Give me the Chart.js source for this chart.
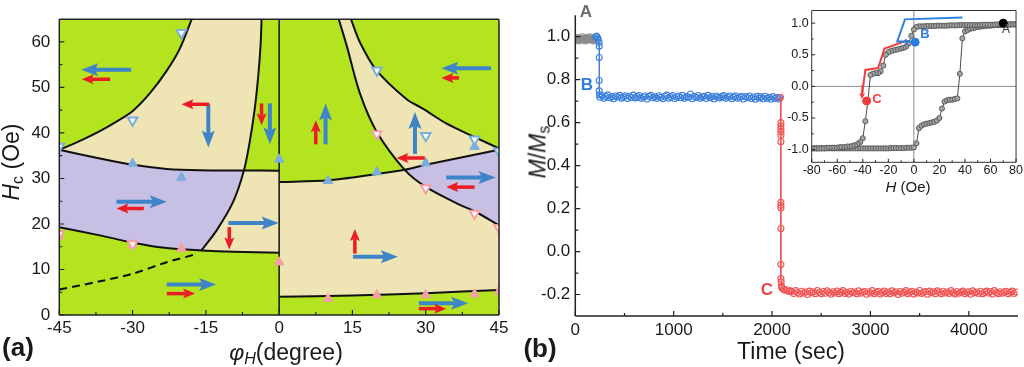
<!DOCTYPE html>
<html>
<head>
<meta charset="utf-8">
<title>Switching phase diagram and magnetization relaxation</title>
<script src="https://cdn.jsdelivr.net/npm/chart.js@4.4.1/dist/chart.umd.min.js"></script>
<style>
  body { margin: 0; background: #fff; font-family: 'Liberation Sans', Arial, sans-serif; color: #1a1a1a; }
  #wrap { position: relative; width: 1024px; height: 367px; overflow: hidden; }
  .box { position: absolute; }
  .lbl { position: absolute; line-height: 1; white-space: nowrap; transform: translate(-50%, -50%); }
  .rot { transform: translate(-50%, -50%) rotate(-90deg); }
  sub { font-size: 70%; vertical-align: -0.25em; line-height: 0; }
</style>
</head>
<body>
<div id="wrap">
  <div class="box" style="left:0;top:0;width:520px;height:367px"><canvas id="chartA"></canvas></div>
  <div class="box" style="left:520px;top:0;width:504px;height:367px"><canvas id="chartB"></canvas></div>
  <div class="box" style="left:780px;top:0;width:244px;height:200px"><canvas id="chartInset"></canvas></div>

  <div class="lbl" style="left:18px;top:347px;font-size:26px;font-weight:bold">(a)</div>
  <div class="lbl" style="left:540px;top:348px;font-size:26px;font-weight:bold">(b)</div>

  <div class="lbl rot" style="left:11px;top:162px;font-size:23px"><i>H</i><sub>c</sub> (Oe)</div>
  <div class="lbl" style="left:286px;top:352px;font-size:23px"><i>φ</i><sub><i>H</i></sub>(degree)</div>
  <div class="lbl rot" style="left:538px;top:152px;font-size:23px"><i>M</i>/<i>M</i><sub>s</sub></div>
  <div class="lbl" style="left:791px;top:351px;font-size:23px">Time (sec)</div>
  <div class="lbl" style="left:908px;top:186px;font-size:15px"><i>H</i> (Oe)</div>

  <div class="lbl" style="left:586px;top:11px;font-size:17px;font-weight:bold;color:#6b6b6b">A</div>
  <div class="lbl" style="left:587px;top:84px;font-size:17px;font-weight:bold;color:#2b7de0">B</div>
  <div class="lbl" style="left:767px;top:289px;font-size:17px;font-weight:bold;color:#ee4444">C</div>

  <div class="lbl" style="left:1006px;top:29px;font-size:12px;color:#333">A</div>
  <div class="lbl" style="left:925px;top:33px;font-size:13px;font-weight:bold;color:#2b7de0">B</div>
  <div class="lbl" style="left:877px;top:98px;font-size:13px;font-weight:bold;color:#ee3b3b">C</div>
</div>

<script>
// ---------- panel (a): phi_H (degree) vs Hc (Oe) ----------
const phiTicks = [-45, -30, -15, 0, 15, 30, 45];
const phiMinor = [-37.5, -22.5, -7.5, 7.5, 22.5, 37.5];
const hcTicks = [0, 10, 20, 30, 40, 50, 60];
const hcMinor = [5, 15, 25, 35, 45, 55];

// boundary curves, [phi, Hc]
const curveA = [[-45, 36.3], [-40.1, 38.6], [-36.7, 40.4], [-33.3, 42.5], [-29.9, 44.9], [-26.4, 48.8], [-23, 53.7], [-20.3, 58.6], [-17.9, 65]];
const curveB = [[-15.9, 14.2], [-12.8, 18.6], [-9.4, 24.9], [-7.2, 31.8], [-6.0, 38.2], [-5.0, 45.3], [-4.3, 52.3], [-3.8, 59.3], [-3.6, 65]];
const curveBdash = [[-45, 5.6], [-36.7, 7.4], [-29.9, 9.1], [-23, 11.6], [-17.2, 13.3]];
const curveC = [[-45, 36.3], [-36.7, 34.4], [-29.9, 33.0], [-23, 32.1], [-16.2, 31.8], [-7.2, 31.75], [0, 31.7]];
const curveD = [[-45, 19.3], [-36.7, 17.5], [-29.9, 15.9], [-23, 14.7], [-15.9, 14.2], [-9.4, 13.9], [0, 13.7]];
const curveE = [[0, 29.2], [10, 29.6], [20, 31.0], [25.7, 31.9], [30, 33.0], [40, 35.2], [45, 36.3]];
const curveF = [[0, 4.0], [15, 4.3], [30, 4.8], [45, 5.5]];
const curveG = [[12.2, 65], [13.8, 59.3], [16.5, 48.8], [19.9, 40.4], [25.7, 31.9], [30.1, 28.1], [37, 24.2], [40, 22.8], [45, 19.7]];
const curveH = [[14.7, 65], [16.5, 60], [19.9, 53.8], [26.1, 47.4], [29.5, 45.3], [34.2, 42.1], [40, 39.1], [45, 36.6]];
const divider = [[0, 0], [0, 65]];

// measured switching fields (triangles)
const blueUp = [[-30, 33.3], [-20, 30.2], [0, 34.2], [10, 29.5], [20, 31.4], [30, 33.4], [40, 37.0]];
const blueDown = [[-45, 37], [-30, 42.8], [-20, 62], [20, 53.8], [30, 39.4], [40, 38.6], [45, 36]];
const pinkUp = [[-45, 17.3], [-30, 15.4], [-20, 14.6], [0, 11.6], [10, 3.6], [20, 4.4], [30, 4.4], [40, 4.6], [45, 5.2]];
const pinkDown = [[-45, 17.8], [-30, 15.6], [20, 39.8], [30, 27.9], [40, 22.3], [45, 19.2]];

// magnetization arrows [phiFrom, HcFrom, phiTo, HcTo]
const arrowsBlue = [
  [-30.3, 53.9, -40.5, 53.9], [-14.5, 46.3, -14.5, 36.8], [-1.9, 46.5, -1.9, 37.5],
  [-33.3, 24.9, -23.0, 24.9], [-10.4, 20.2, -0.1, 20.2], [-23.0, 6.7, -12.9, 6.7],
  [43.4, 54.2, 33.2, 54.2], [9.5, 37.5, 9.5, 46.5], [27.8, 35.4, 27.8, 44.6],
  [34.2, 30.2, 44.3, 30.2], [15.1, 12.8, 24.3, 12.8], [28.6, 2.6, 38.7, 2.6]
];
const arrowsRed = [
  [-34.6, 51.8, -40.4, 51.8], [-14.3, 46.3, -20.0, 46.3], [-3.6, 46.5, -3.6, 41.7],
  [-27.7, 23.4, -33.3, 23.4], [-10.2, 19.3, -10.2, 14.4], [-23.0, 4.7, -17.2, 4.7],
  [36.8, 52.1, 33.2, 52.1], [7.5, 37.5, 7.5, 42.8], [29.8, 34.5, 24.0, 34.5],
  [40.0, 28.1, 34.2, 28.1], [15.5, 13.5, 15.5, 18.9], [28.6, 1.4, 34.2, 1.4]
];

// ---------- panel (b): M/Ms vs time ----------
const timeTicks = [0, 1000, 2000, 3000, 4000];
const timeMinor = [500, 1500, 2500, 3500];
const mTicks = [-0.2, 0, 0.2, 0.4, 0.6, 0.8, 1.0];
const mMinor = [-0.1, 0.1, 0.3, 0.5, 0.7, 0.9];

const graySeries = [[0, 0.99], [8, 0.985], [16, 0.995], [24, 0.99], [32, 0.98], [40, 0.995], [48, 0.99], [56, 0.985],
  [64, 0.99], [72, 1.0], [80, 0.985], [88, 0.99], [96, 0.995], [104, 0.98], [112, 0.99], [120, 0.995],
  [128, 0.985], [136, 0.99], [144, 1.0], [152, 0.99], [160, 0.995], [168, 0.985], [176, 0.99], [184, 0.98],
  [192, 0.995], [200, 0.99]];

const blueSeries = [[208, 1.0], [217, 1.003], [226, 0.995], [233, 0.988], [243, 0.973], [243, 0.956], [243, 0.903],
  [243, 0.796], [243, 0.748], [245, 0.73],
  [250, 0.718], [270, 0.726], [290, 0.713], [310, 0.722], [330, 0.729], [350, 0.716], [370, 0.721], [390, 0.711],
  [410, 0.724], [430, 0.719], [450, 0.727], [470, 0.714], [490, 0.72], [510, 0.725], [530, 0.712], [550, 0.723],
  [570, 0.717], [590, 0.728], [610, 0.715], [630, 0.721], [650, 0.726], [670, 0.713], [690, 0.719], [710, 0.724],
  [730, 0.71], [750, 0.722], [770, 0.727], [790, 0.716], [810, 0.72], [830, 0.713], [850, 0.725], [870, 0.718],
  [890, 0.711], [910, 0.723], [930, 0.728], [950, 0.714], [970, 0.72], [990, 0.726], [1010, 0.712], [1030, 0.719],
  [1050, 0.724], [1070, 0.716], [1090, 0.727], [1110, 0.713], [1130, 0.721], [1150, 0.718], [1170, 0.733],
  [1190, 0.711], [1210, 0.722], [1230, 0.717], [1250, 0.726], [1270, 0.714], [1290, 0.72], [1310, 0.723],
  [1330, 0.712], [1350, 0.727], [1370, 0.716], [1390, 0.721], [1410, 0.71], [1430, 0.724], [1450, 0.718],
  [1470, 0.715], [1490, 0.722], [1510, 0.726], [1530, 0.713], [1550, 0.719], [1570, 0.724], [1590, 0.711],
  [1610, 0.72], [1630, 0.725], [1650, 0.714], [1670, 0.718], [1690, 0.723], [1710, 0.71], [1730, 0.721],
  [1750, 0.716], [1770, 0.724], [1790, 0.712], [1810, 0.719], [1830, 0.709], [1850, 0.722], [1870, 0.715],
  [1890, 0.72], [1910, 0.711], [1930, 0.723], [1950, 0.713], [1970, 0.718], [1990, 0.709], [2010, 0.721],
  [2030, 0.712], [2050, 0.717], [2070, 0.71], [2080, 0.716]];

const redSeries = [[2085, 0.718], [2090, 0.6], [2090, 0.585], [2090, 0.57], [2090, 0.556], [2090, 0.54], [2090, 0.511],
  [2090, 0.229], [2090, 0.215], [2090, 0.203], [2090, 0.107], [2090, -0.06], [2090, -0.126], [2092, -0.141],
  [2095, -0.16], [2100, -0.168], [2115, -0.175], [2130, -0.18], [2150, -0.178], [2170, -0.186], [2185, -0.183],
  [2200, -0.186], [2220, -0.195], [2240, -0.182], [2260, -0.191], [2280, -0.198], [2300, -0.185], [2320, -0.193],
  [2340, -0.188], [2360, -0.2], [2380, -0.184], [2400, -0.192], [2420, -0.187], [2440, -0.196], [2460, -0.181],
  [2480, -0.19], [2500, -0.197], [2520, -0.186], [2540, -0.194], [2560, -0.183], [2580, -0.191], [2600, -0.199],
  [2620, -0.187], [2640, -0.193], [2660, -0.184], [2680, -0.196], [2700, -0.189], [2720, -0.182], [2740, -0.195],
  [2760, -0.19], [2780, -0.198], [2800, -0.185], [2820, -0.192], [2840, -0.188], [2860, -0.197], [2880, -0.183],
  [2900, -0.194], [2920, -0.19], [2940, -0.186], [2960, -0.199], [2980, -0.187], [3000, -0.193], [3020, -0.182],
  [3040, -0.196], [3060, -0.189], [3080, -0.185], [3100, -0.198], [3120, -0.191], [3140, -0.184], [3160, -0.195],
  [3180, -0.188], [3200, -0.197], [3220, -0.183], [3240, -0.192], [3260, -0.187], [3280, -0.2], [3300, -0.186],
  [3320, -0.194], [3340, -0.189], [3360, -0.182], [3380, -0.196], [3400, -0.19], [3420, -0.185], [3440, -0.198],
  [3460, -0.188], [3480, -0.193], [3500, -0.181], [3520, -0.195], [3540, -0.19], [3560, -0.186], [3580, -0.199],
  [3600, -0.184], [3620, -0.192], [3640, -0.187], [3660, -0.196], [3680, -0.183], [3700, -0.19], [3720, -0.197],
  [3740, -0.185], [3760, -0.193], [3780, -0.188], [3800, -0.195], [3820, -0.182], [3840, -0.191], [3860, -0.198],
  [3880, -0.186], [3900, -0.194], [3920, -0.189], [3940, -0.184], [3960, -0.196], [3980, -0.19], [4000, -0.187],
  [4020, -0.199], [4040, -0.183], [4060, -0.192], [4080, -0.188], [4100, -0.195], [4120, -0.185], [4140, -0.197],
  [4160, -0.19], [4180, -0.184], [4200, -0.193], [4220, -0.186], [4240, -0.198], [4260, -0.182], [4280, -0.191],
  [4300, -0.196], [4320, -0.187], [4340, -0.194], [4360, -0.189], [4380, -0.185], [4400, -0.197], [4420, -0.19],
  [4440, -0.184], [4460, -0.195], [4480, -0.188]];

// ---------- inset: hysteresis loop ----------
const fieldTicks = [-80, -60, -40, -20, 0, 20, 40, 60, 80];
const fieldMinor = [-70, -50, -30, -10, 10, 30, 50, 70];
const loopTicks = [-1.0, -0.5, 0, 0.5, 1.0];
const loopMinor = [-0.75, -0.25, 0.25, 0.75];

const loopDown = [[80, 0.98], [78, 0.98], [76, 0.98], [74, 0.98], [72, 0.98], [70, 0.98], [68, 0.98], [66, 0.98],
  [64, 0.98], [62, 0.975], [60, 0.975], [58, 0.975], [56, 0.975], [54, 0.975], [52, 0.97], [50, 0.97], [48, 0.97],
  [46, 0.97], [44, 0.97], [42, 0.97], [40, 0.97], [38, 0.97], [36, 0.97], [34, 0.965], [32, 0.965], [30, 0.965],
  [28, 0.965], [26, 0.96], [24, 0.96], [22, 0.96], [20, 0.96], [18, 0.96], [16, 0.955], [14, 0.955], [12, 0.955],
  [10, 0.955], [8, 0.95], [6, 0.95], [4, 0.95], [2, 0.94], [0, 0.9], [-2, 0.8], [-4, 0.68], [-6, 0.63], [-8, 0.61],
  [-10, 0.6], [-12, 0.59], [-14, 0.58], [-16, 0.57], [-18, 0.56], [-20, 0.54], [-22, 0.5], [-24, 0.33], [-26, 0.24],
  [-28, 0.21], [-30, 0.21], [-32, 0.2], [-34, 0.18], [-36, -0.23], [-38, -0.55], [-40, -0.82], [-42, -0.88],
  [-44, -0.91], [-46, -0.93], [-48, -0.94], [-50, -0.95], [-52, -0.95], [-54, -0.96], [-56, -0.96], [-58, -0.96],
  [-60, -0.97], [-62, -0.97], [-64, -0.97], [-66, -0.97], [-68, -0.97], [-70, -0.98], [-72, -0.98], [-74, -0.98],
  [-76, -0.98], [-78, -0.98], [-80, -0.98]];

const loopUp = [[-80, -0.98], [-78, -0.98], [-76, -0.98], [-74, -0.98], [-72, -0.98], [-70, -0.98], [-68, -0.98],
  [-66, -0.98], [-64, -0.98], [-62, -0.98], [-60, -0.98], [-58, -0.98], [-56, -0.98], [-54, -0.98], [-52, -0.98],
  [-50, -0.98], [-48, -0.98], [-46, -0.98], [-44, -0.98], [-42, -0.98], [-40, -0.98], [-38, -0.98], [-36, -0.98],
  [-34, -0.98], [-32, -0.98], [-30, -0.98], [-28, -0.98], [-26, -0.98], [-24, -0.98], [-22, -0.98], [-20, -0.98],
  [-18, -0.975], [-16, -0.975], [-14, -0.975], [-12, -0.975], [-10, -0.975], [-8, -0.975], [-6, -0.97], [-4, -0.97],
  [-2, -0.97], [0, -0.965], [2, -0.9], [4, -0.66], [6, -0.62], [8, -0.6], [10, -0.59], [12, -0.58], [14, -0.57],
  [16, -0.56], [18, -0.54], [20, -0.5], [22, -0.35], [24, -0.24], [26, -0.22], [28, -0.21], [30, -0.21], [32, -0.2],
  [34, -0.19], [36, 0.2], [38, 0.76], [40, 0.87], [42, 0.89], [44, 0.91], [46, 0.92], [48, 0.93], [50, 0.94],
  [52, 0.945], [54, 0.95], [56, 0.955], [58, 0.96], [60, 0.96], [62, 0.965], [64, 0.97], [66, 0.97], [68, 0.97],
  [70, 0.975], [72, 0.975], [74, 0.975], [76, 0.98], [78, 0.98], [80, 0.98]];

const bluePath = [[38, 1.09], [-7, 1.06], [-13, 0.71], [-3, 0.71]];
const redPath = [[-6, 0.72], [-23, 0.6], [-28, 0.29], [-38, 0.26], [-40.5, -0.12]];
const insetArrowsBlue = [[-8, 0.71, -2.5, 0.71]];
const insetArrowsRed = [[-40.2, 0.02, -40.7, -0.2]];
const zeroH = [[-80, 0], [80, 0]];
const zeroV = [[0, -1.2], [0, 1.2]];
const pointA = [[70, 1.0]];
const pointB = [[1, 0.7]];
const pointC = [[-37, -0.23]];

// ---------- helpers ----------
const FONT = "'Liberation Sans', Arial, sans-serif";
const pts = arr => arr.map(([x, y]) => ({ x, y }));
const seg = (c, i, j) => (i <= j ? c.slice(i, j + 1) : c.slice(j, i + 1).reverse());

const GREEN = '#b4e41f';
const BEIGE = '#efe4b4';
const PURPLE = '#c7bfe4';

// regions of the phase diagram, closed polygons built from the boundary curves
const beigeRegions = [
  [...curveA, ...seg(curveB, 8, 3), ...seg(curveC, 5, 0)],
  [...seg(curveB, 0, 3), ...seg(curveC, 5, 6), ...seg(curveD, 6, 4)],
  [...seg(curveG, 0, 4), ...seg(curveE, 3, 6), ...seg(curveH, 7, 0)],
  [...curveF, ...seg(curveG, 8, 4), ...seg(curveE, 3, 0)]
];
const purpleRegions = [
  [...seg(curveC, 0, 5), ...seg(curveB, 3, 0), ...seg(curveD, 4, 0)],
  [...seg(curveE, 3, 6), ...seg(curveG, 8, 4)]
];

function region(data, color) {
  return { data: pts(data), showLine: true, pointRadius: 0, borderWidth: 0, borderColor: 'rgba(0,0,0,0)',
    backgroundColor: color, fill: 'shape', tension: 0, order: 30 };
}

function curve(data, extra) {
  return Object.assign({ data: pts(data), showLine: true, pointRadius: 0, borderColor: '#111', borderWidth: 2,
    tension: 0.3, fill: false, order: 10 }, extra);
}

function triangles(data, color, down) {
  return { data: pts(data), pointStyle: 'triangle', pointRadius: 5.5, pointRotation: down ? 180 : 0,
    pointBackgroundColor: down ? '#fff' : color, pointBorderColor: color, pointBorderWidth: down ? 2 : 1,
    showLine: false, clip: 0, order: down ? 1 : 2 };
}

// open circles: transparent inside so the dense run of points reads as a band
function series(data, color, order) {
  return { data: pts(data), showLine: true, borderColor: color, borderWidth: 1, pointRadius: 3,
    pointBorderWidth: 1.1, pointBorderColor: color, pointBackgroundColor: 'rgba(255,255,255,0)',
    tension: 0, order: order };
}

// fills the plot area
const plotBg = {
  id: 'plotBg',
  beforeDatasetsDraw(chart, args, opts) {
    if (!opts.color) return;
    const { ctx, chartArea: a } = chart;
    ctx.save();
    ctx.fillStyle = opts.color;
    ctx.fillRect(a.left, a.top, a.right - a.left, a.bottom - a.top);
    ctx.restore();
  }
};

// axis lines around the plot area
const frame = {
  id: 'frame',
  afterDraw(chart, args, opts) {
    const { ctx, chartArea: a } = chart;
    const sides = opts.sides || 'lbtr';
    ctx.save();
    ctx.strokeStyle = opts.color || '#222';
    ctx.lineWidth = opts.width || 1;
    ctx.beginPath();
    if (sides.includes('l')) { ctx.moveTo(a.left, a.top); ctx.lineTo(a.left, a.bottom); }
    if (sides.includes('b')) { ctx.moveTo(a.left, a.bottom); ctx.lineTo(a.right, a.bottom); }
    if (sides.includes('t')) { ctx.moveTo(a.left, a.top); ctx.lineTo(a.right, a.top); }
    if (sides.includes('r')) { ctx.moveTo(a.right, a.top); ctx.lineTo(a.right, a.bottom); }
    ctx.stroke();
    ctx.restore();
  }
};

// tick marks pointing into the plot, major and minor
const innerTicks = {
  id: 'innerTicks',
  afterDraw(chart, args, opts) {
    const { ctx, chartArea: a, scales } = chart;
    ctx.save();
    ctx.strokeStyle = '#222';
    ctx.lineWidth = opts.width || 1;
    ctx.beginPath();
    const xTick = (v, len) => { const px = scales.x.getPixelForValue(v); ctx.moveTo(px, a.bottom); ctx.lineTo(px, a.bottom - len); };
    const yTick = (v, len) => { const py = scales.y.getPixelForValue(v); ctx.moveTo(a.left, py); ctx.lineTo(a.left + len, py); };
    opts.xMajor.forEach(v => xTick(v, opts.len));
    opts.xMinor.forEach(v => xTick(v, opts.minorLen));
    opts.yMajor.forEach(v => yTick(v, opts.len));
    opts.yMinor.forEach(v => yTick(v, opts.minorLen));
    ctx.stroke();
    ctx.restore();
  }
};

// arrows given in data coordinates
const arrows = {
  id: 'arrows',
  afterDatasetsDraw(chart, args, opts) {
    const { ctx, scales } = chart;
    ctx.save();
    for (const set of opts.sets || []) {
      for (const [x0, y0, x1, y1] of set.list) {
        const p0x = scales.x.getPixelForValue(x0), p0y = scales.y.getPixelForValue(y0);
        const p1x = scales.x.getPixelForValue(x1), p1y = scales.y.getPixelForValue(y1);
        const ang = Math.atan2(p1y - p0y, p1x - p0x);
        const c = Math.cos(ang), s = Math.sin(ang);
        const bx = p1x - c * set.head, by = p1y - s * set.head;
        const nx = p1x - c * set.head * 0.8, ny = p1y - s * set.head * 0.8;
        ctx.strokeStyle = set.color;
        ctx.fillStyle = set.color;
        ctx.lineWidth = set.width;
        ctx.beginPath();
        ctx.moveTo(p0x, p0y);
        ctx.lineTo(nx, ny);
        ctx.stroke();
        ctx.beginPath();
        ctx.moveTo(p1x, p1y);
        ctx.lineTo(bx - s * set.headW, by + c * set.headW);
        ctx.lineTo(nx, ny);
        ctx.lineTo(bx + s * set.headW, by - c * set.headW);
        ctx.closePath();
        ctx.fill();
      }
    }
    ctx.restore();
  }
};

function axis(min, max, tickList, size, pad, fmt, fit) {
  return {
    type: 'linear', min: min, max: max,
    grid: { display: false, drawTicks: false },
    border: { display: false },
    ticks: { font: { family: FONT, size: size }, color: '#1a1a1a', padding: pad, autoSkip: false,
      maxRotation: 0, minRotation: 0, callback: fmt },
    afterBuildTicks: scale => { scale.ticks = tickList.map(v => ({ value: v })); },
    afterFit: fit
  };
}

const baseOptions = {
  animation: false,
  responsive: true,
  maintainAspectRatio: false,
  events: []
};

// ---------- chart (a) ----------
new Chart(document.getElementById('chartA'), {
  type: 'scatter',
  data: {
    datasets: [
      triangles(blueDown, '#7aaedc', true),
      triangles(blueUp, '#7aaedc', false),
      triangles(pinkDown, '#f5a0a4', true),
      triangles(pinkUp, '#f5a0a4', false),
      curve(curveA), curve(curveB), curve(curveC), curve(curveD),
      curve(curveE), curve(curveF), curve(curveG), curve(curveH),
      curve(curveBdash, { borderDash: [8, 5] }),
      curve(divider, { borderWidth: 1.5, tension: 0 }),
      ...beigeRegions.map(r => region(r, BEIGE)),
      ...purpleRegions.map(r => region(r, PURPLE))
    ]
  },
  options: Object.assign({}, baseOptions, {
    layout: { padding: { left: 0, right: 21, top: 6, bottom: 0 } },
    plugins: {
      legend: { display: false },
      tooltip: { enabled: false },
      plotBg: { color: GREEN },
      frame: { sides: 'lbtr', width: 1.5, color: '#222' },
      innerTicks: { xMajor: phiTicks, xMinor: phiMinor, yMajor: hcTicks, yMinor: hcMinor, len: 5, minorLen: 3, width: 1.2 },
      arrows: { sets: [
        { list: arrowsBlue, color: '#3d84c8', width: 4, head: 17, headW: 6.5 },
        { list: arrowsRed, color: '#ec1c24', width: 3.5, head: 12, headW: 5 }
      ] }
    },
    scales: {
      x: axis(-45, 45, phiTicks, 17, 3, v => String(v), s => { s.height = 52; }),
      y: axis(0, 65, hcTicks, 17, 9, v => String(v), s => { s.width = 59.3; })
    }
  }),
  plugins: [plotBg, frame, innerTicks, arrows]
});

// ---------- chart (b) ----------
new Chart(document.getElementById('chartB'), {
  type: 'scatter',
  data: {
    datasets: [
      series(graySeries, '#8a8a8a', 3),
      series(blueSeries, '#3b7fdc', 2),
      series(redSeries, '#f05454', 1)
    ]
  },
  options: Object.assign({}, baseOptions, {
    layout: { padding: { left: 0, right: 6, top: 1, bottom: 0 } },
    plugins: {
      legend: { display: false },
      tooltip: { enabled: false },
      frame: { sides: 'lb', width: 1.5, color: '#222' },
      innerTicks: { xMajor: timeTicks, xMinor: timeMinor, yMajor: mTicks, yMinor: mMinor, len: 5, minorLen: 3, width: 1.2 }
    },
    scales: {
      x: axis(0, 4500, timeTicks, 17, 4, v => String(v), s => { s.height = 51; }),
      y: axis(-0.3, 1.1, mTicks, 17, 5, v => v.toFixed(1), s => { s.width = 55.3; })
    }
  }),
  plugins: [frame, innerTicks]
});

// ---------- inset ----------
new Chart(document.getElementById('chartInset'), {
  type: 'scatter',
  data: {
    datasets: [
      { data: pts(pointA), pointRadius: 4, pointBackgroundColor: '#000', pointBorderColor: '#000', order: 0 },
      { data: pts(pointB), pointRadius: 4, pointBackgroundColor: '#2b7de0', pointBorderColor: '#2b7de0', order: 0 },
      { data: pts(pointC), pointRadius: 4, pointBackgroundColor: '#ee3b3b', pointBorderColor: '#ee3b3b', order: 0 },
      curve(bluePath, { borderColor: '#2f7fe0', borderWidth: 2, tension: 0, order: 1 }),
      curve(redPath, { borderColor: '#f03c3c', borderWidth: 2, tension: 0, order: 1 }),
      { data: pts(loopDown), showLine: true, borderColor: '#4a4a4a', borderWidth: 1, pointRadius: 2.6,
        pointBackgroundColor: '#a3a3a3', pointBorderColor: '#4a4a4a', pointBorderWidth: 0.8, order: 3 },
      { data: pts(loopUp), showLine: true, borderColor: '#4a4a4a', borderWidth: 1, pointRadius: 2.6,
        pointBackgroundColor: '#a3a3a3', pointBorderColor: '#4a4a4a', pointBorderWidth: 0.8, order: 3 },
      curve(zeroH, { borderColor: '#8c8c8c', borderWidth: 1, tension: 0, order: 5 }),
      curve(zeroV, { borderColor: '#8c8c8c', borderWidth: 1, tension: 0, order: 5 })
    ]
  },
  options: Object.assign({}, baseOptions, {
    layout: { padding: { left: 0, right: 5, top: 0.5, bottom: 0 } },
    plugins: {
      legend: { display: false },
      tooltip: { enabled: false },
      frame: { sides: 'lbtr', width: 1, color: '#333' },
      innerTicks: { xMajor: fieldTicks, xMinor: fieldMinor, yMajor: loopTicks, yMinor: loopMinor, len: 3.5, minorLen: 2, width: 1 },
      arrows: { sets: [
        { list: insetArrowsBlue, color: '#2f7fe0', width: 2, head: 6, headW: 3 },
        { list: insetArrowsRed, color: '#f03c3c', width: 2, head: 6, headW: 3 }
      ] }
    },
    scales: {
      x: axis(-80, 80, fieldTicks, 12.5, 1, v => String(v), s => { s.height = 37.7; }),
      y: axis(-1.2, 1.2, loopTicks, 12.5, 3, v => v.toFixed(1), s => { s.width = 31.7; })
    }
  }),
  plugins: [frame, innerTicks, arrows]
});
</script>
</body>
</html>
